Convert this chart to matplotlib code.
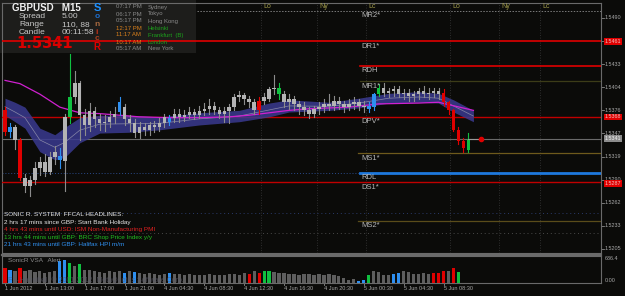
import matplotlib
matplotlib.use("Agg")
import matplotlib.pyplot as plt
from matplotlib.patches import Rectangle
from matplotlib.transforms import blended_transform_factory

plt.rcParams['font.family'] = ['Liberation Sans', 'DejaVu Sans']

# ---------------- data ----------------
opens = [1.5376, 1.5349, 1.5355, 1.5340, 1.5293, 1.5283, 1.5290, 1.5305, 1.5312, 1.5300,
         1.5318, 1.5315, 1.5313, 1.5368, 1.5392, 1.5410, 1.5370, 1.5358, 1.5375, 1.5365,
         1.5360, 1.5362, 1.5368, 1.5374, 1.5380, 1.5365, 1.5360, 1.5348, 1.5356, 1.5352,
         1.5358, 1.5355, 1.5360, 1.5362, 1.5366, 1.5372, 1.5368, 1.5370, 1.5374, 1.5370,
         1.5375, 1.5378, 1.5382, 1.5376, 1.5372, 1.5375, 1.5380, 1.5392, 1.5395, 1.5390,
         1.5386, 1.5376, 1.5388, 1.5390, 1.5402, 1.5404, 1.5396, 1.5386, 1.5390, 1.5384,
         1.5380, 1.5376, 1.5372, 1.5378, 1.5380, 1.5384, 1.5382, 1.5388, 1.5384, 1.5380,
         1.5384, 1.5386, 1.5382, 1.5378, 1.5380, 1.5396, 1.5404, 1.5398, 1.5400, 1.5402,
         1.5396, 1.5398, 1.5394, 1.5396, 1.5400, 1.5396, 1.5398, 1.5400, 1.5398, 1.5386,
         1.5376, 1.5352, 1.5338, 1.5327]
highs = [1.5380, 1.5360, 1.5358, 1.5342, 1.5298, 1.5295, 1.5312, 1.5318, 1.5322, 1.5325,
         1.5332, 1.5330, 1.5372, 1.5445, 1.5425, 1.5412, 1.5378, 1.5385, 1.5380, 1.5372,
         1.5370, 1.5375, 1.5380, 1.5392, 1.5384, 1.5370, 1.5365, 1.5362, 1.5360, 1.5362,
         1.5363, 1.5366, 1.5372, 1.5370, 1.5378, 1.5378, 1.5376, 1.5380, 1.5378, 1.5382,
         1.5385, 1.5390, 1.5386, 1.5380, 1.5380, 1.5384, 1.5396, 1.5400, 1.5398, 1.5394,
         1.5390, 1.5392, 1.5398, 1.5405, 1.5420, 1.5410, 1.5400, 1.5396, 1.5394, 1.5388,
         1.5386, 1.5380, 1.5382, 1.5386, 1.5390, 1.5396, 1.5394, 1.5392, 1.5388, 1.5390,
         1.5392, 1.5390, 1.5388, 1.5386, 1.5398, 1.5408, 1.5410, 1.5404, 1.5406, 1.5406,
         1.5402, 1.5402, 1.5400, 1.5404, 1.5406, 1.5404, 1.5404, 1.5404, 1.5402, 1.5388,
         1.5378, 1.5356, 1.5342, 1.5348]
lows = [1.5345, 1.5343, 1.5328, 1.5290, 1.5275, 1.5270, 1.5285, 1.5296, 1.5295, 1.5298,
        1.5310, 1.5305, 1.5276, 1.5360, 1.5385, 1.5340, 1.5345, 1.5350, 1.5355, 1.5352,
        1.5350, 1.5355, 1.5360, 1.5370, 1.5358, 1.5350, 1.5343, 1.5342, 1.5345, 1.5346,
        1.5349, 1.5350, 1.5356, 1.5358, 1.5362, 1.5362, 1.5363, 1.5366, 1.5365, 1.5366,
        1.5370, 1.5372, 1.5372, 1.5366, 1.5362, 1.5360, 1.5376, 1.5388, 1.5384, 1.5380,
        1.5372, 1.5372, 1.5384, 1.5388, 1.5396, 1.5390, 1.5380, 1.5378, 1.5376, 1.5372,
        1.5370, 1.5366, 1.5368, 1.5372, 1.5374, 1.5376, 1.5376, 1.5378, 1.5374, 1.5376,
        1.5378, 1.5376, 1.5374, 1.5374, 1.5376, 1.5394, 1.5394, 1.5392, 1.5394, 1.5392,
        1.5390, 1.5388, 1.5388, 1.5390, 1.5392, 1.5390, 1.5392, 1.5390, 1.5382, 1.5372,
        1.5350, 1.5334, 1.5325, 1.5325]
closes = [1.5349, 1.5355, 1.5340, 1.5293, 1.5283, 1.5290, 1.5305, 1.5312, 1.5300, 1.5318,
          1.5325, 1.5320, 1.5368, 1.5392, 1.5410, 1.5370, 1.5358, 1.5375, 1.5365, 1.5360,
          1.5362, 1.5368, 1.5372, 1.5386, 1.5365, 1.5360, 1.5348, 1.5356, 1.5352, 1.5358,
          1.5355, 1.5360, 1.5368, 1.5366, 1.5372, 1.5368, 1.5370, 1.5374, 1.5370, 1.5375,
          1.5378, 1.5382, 1.5376, 1.5372, 1.5375, 1.5380, 1.5392, 1.5395, 1.5390, 1.5386,
          1.5376, 1.5388, 1.5392, 1.5402, 1.5404, 1.5396, 1.5386, 1.5390, 1.5384, 1.5380,
          1.5376, 1.5372, 1.5378, 1.5380, 1.5384, 1.5382, 1.5388, 1.5384, 1.5380, 1.5384,
          1.5386, 1.5382, 1.5380, 1.5382, 1.5396, 1.5404, 1.5398, 1.5400, 1.5402, 1.5396,
          1.5398, 1.5394, 1.5396, 1.5400, 1.5396, 1.5398, 1.5400, 1.5396, 1.5386, 1.5376,
          1.5352, 1.5338, 1.5330, 1.5341]
# bar signal class: g=normal, r=red, G=green, b=blue
bar_class = list("rbgrgggggggbgGgggggggggbgggggggggbgggggggggggggggggrgggGgggggggggggggggggbbGggggggggggggrrrrrG")
volumes = [380, 340, 320, 400, 300, 330, 280, 300, 260, 280,
           300, 560, 600, 520, 450, 480, 350, 330, 300, 280,
           260, 300, 280, 300, 260, 320, 280, 260, 240, 250,
           230, 220, 240, 260, 240, 230, 220, 240, 220, 200,
           220, 240, 220, 200, 220, 240, 230, 220, 260, 240,
           300, 260, 300, 320, 280, 260, 250, 240, 230, 220,
           240, 230, 220, 230, 220, 230, 200, 180, 120, 80,
           100, 60, 80, 200, 300, 280, 220, 200, 240, 260,
           300, 280, 240, 230, 250, 240, 260, 250, 320, 300,
           380, 280, 300, 330]
vol_class = list("rbgrgggggggbbGgGggggggggbgbggggggbgggggggggggggggrgrGGgggggggggggggggggbbGggggbbggggggrrrgrG")

band_idx = [0, 2, 4, 7, 10, 12, 15, 19, 25, 31, 39, 47, 53, 57, 65, 71, 77, 83, 87, 90, 94]
band_upper = [1.5391, 1.5386, 1.5380, 1.5354, 1.5346, 1.5355, 1.5367, 1.5370, 1.5370, 1.5368,
              1.5373, 1.5376, 1.5385, 1.5389, 1.5386, 1.5391, 1.5397, 1.5399, 1.5397, 1.5389, 1.5376]
band_lower = [1.5370, 1.5362, 1.5354, 1.5325, 1.5315, 1.5318, 1.5336, 1.5348, 1.5349, 1.5352,
              1.5358, 1.5362, 1.5368, 1.5374, 1.5376, 1.5379, 1.5385, 1.5386, 1.5385, 1.5374, 1.5362]
ema_idx = [0, 3, 7, 11, 15, 19, 27, 33, 39, 45, 49, 53, 57, 61, 69, 75, 83, 87, 94]
ema_vals = [1.5413, 1.5409, 1.5396, 1.5380, 1.5373, 1.5372, 1.5368, 1.5367, 1.5367, 1.5368,
            1.5370, 1.5373, 1.5376, 1.5378, 1.5380, 1.5384, 1.5385, 1.5386, 1.5376]

level_names = ["MR2*", "DR1*", "RDH", "MR1*", "DPV*", "MS1*", "RDL", "DS1*", "MS2*"]
level_prices = [1.5499, 1.5461, 1.5431, 1.5412, 1.5368, 1.5323, 1.5299, 1.5287, 1.5240]
bid_price = 1.5341

price_ticks = [1.5490, 1.54615, 1.5433, 1.54045, 1.5376, 1.53475, 1.5319, 1.52905, 1.5262, 1.52335, 1.5205]
price_tick_labels = ["1.5490", "1.5461", "1.5433", "1.5404", "1.5376", "1.5347",
                     "1.5319", "1.5290", "1.5262", "1.5233", "1.5205"]
time_tick_idx = [0, 8, 16, 24, 32, 40, 48, 56, 64, 72, 80, 88]
time_tick_labels = ["1 Jun 2012", "1 Jun 13:00", "1 Jun 17:00", "1 Jun 21:00", "4 Jun 04:30",
                    "4 Jun 08:30", "4 Jun 12:30", "4 Jun 16:30", "4 Jun 20:30", "5 Jun 00:30",
                    "5 Jun 04:30", "5 Jun 08:30"]
session_names = ["Lo", "Ny", "Lc", "Lo", "Ny", "Lc"]
session_idx = [51.4, 62.6, 72.4, 89.2, 99.2, 107.4]

clock_times = ["07:17 PM", "06:17 PM", "05:17 PM", "12:17 PM", "11:17 AM", "10:17 AM", "05:17 AM"]
clock_cities = ["Sydney", "Tokyo", "Hong Kong", "Helsinki", "Frankfurt  (B)", "London", "New York"]
headlines = ["SONIC R. SYSTEM  FFCAL HEADLINES:",
             "2 hrs 17 mins since GBP: Start Bank Holiday",
             "4 hrs 43 mins until USD: ISM Non-Manufacturing PMI",
             "13 hrs 44 mins until GBP: BRC Shop Price Index y/y",
             "21 hrs 43 mins until GBP: Halifax HPI m/m"]

# ---------------- style ----------------
W, H = 625, 296
BG = '#0b0b09'
CAND = '#b4b4b4'
WICK = '#8c8c8c'
CLS = {'g': CAND, 'r': '#e00000', 'G': '#10c040', 'b': '#2e8ff0'}
VCLS = {'g': '#5e5e5e', 'r': '#e00000', 'G': '#10c040', 'b': '#2e8ff0'}

fig = plt.figure(figsize=(W / 100, H / 100), dpi=100)
fig.patch.set_facecolor(BG)


def fx(px):
    return px / W


def fy(py):
    return 1 - py / H


def ftext(x, y, s, color, size, **kw):
    fig.text(fx(x), fy(y), s, color=color, fontsize=size, va='center', **kw)


ax = fig.add_axes([fx(2), fy(253), (601 - 2) / W, (253 - 3) / H])
axv = fig.add_axes([fx(2), fy(283), (601 - 2) / W, (283 - 256) / H])
XMIN, XMAX = -0.6, 119.6
YMIN, YMAX = 1.5200, 1.55085
for a in (ax, axv):
    a.set_facecolor(BG)
    a.set_xlim(XMIN, XMAX)
    a.set_xticks([])
    a.set_yticks([])
    for sp in a.spines.values():
        sp.set_color('#6a6a6a')
        sp.set_linewidth(0.8)
ax.set_ylim(YMIN, YMAX)
axv.set_ylim(0, 700)


def px2idx(px):
    return (px - 3) / 5.0


PIP_PX = (YMAX - YMIN) / 250.0  # price per pixel

# info panel
ax.add_patch(Rectangle((fx(0), fy(53)), fx(196), 53 / H, transform=fig.transFigure,
                       facecolor='#1d1d1b', edgecolor='none', zorder=1, clip_on=False))

# horizontal level lines
lv_style = [dict(color='#7a7a7a', ls=(0, (1.5, 1.5)), lw=0.7, x0=196),
            dict(color='#e00000', ls='-', lw=1.2, x0=0),
            dict(color='#e00000', ls='-', lw=1.2, x0=359),
            dict(color='#3c3c18', ls='-', lw=0.9, x0=359),
            dict(color='#c00000', ls='-', lw=1.0, x0=0),
            dict(color='#6e5a1c', ls='-', lw=0.9, x0=357),
            dict(color='#1e78dc', ls='-', lw=2.0, x0=359),
            dict(color='#c00000', ls='-', lw=1.0, x0=0),
            dict(color='#5a4c1a', ls='-', lw=0.9, x0=357)]
for name, p, st in zip(level_names, level_prices, lv_style):
    ax.plot([px2idx(st['x0']), XMAX], [p, p], color=st['color'], ls=st['ls'], lw=st['lw'], zorder=3)
    ax.text(px2idx(361), p - 5 * PIP_PX, name, color='#b8b8b8', fontsize=5.5, va='center', zorder=6)
# RDL dotted extension
ax.plot([XMIN, px2idx(359)], [level_prices[6]] * 2, color='#2a4a8a', ls=(0, (1, 2)), lw=0.7, zorder=2)
# extra dotted lines
ax.plot([XMIN, XMAX], [1.5249] * 2, color='#2a3a6a', ls=(0, (1, 3)), lw=0.7, zorder=2)
ax.plot([XMIN, XMAX], [1.5225] * 2, color='#4a4a4a', ls=(0, (1, 3)), lw=0.7, zorder=2)
# bid line
ax.plot([XMIN, XMAX], [bid_price] * 2, color='#6a6a6a', lw=0.8, zorder=2)

# session vertical lines
for nm, si in zip(session_names, session_idx):
    ax.plot([si, si], [YMIN, YMAX], color='#3a3a3a', ls=(0, (1, 2)), lw=0.6, zorder=1)
    ax.text(si + 0.5, YMAX - 3 * PIP_PX, nm, color='#a09a4a', fontsize=5, va='center', zorder=6)

# band
ax.fill_between(band_idx, band_lower, band_upper, color='#3a3a90', alpha=0.85, lw=0, zorder=3)
ax.plot(band_idx, [(u + l) / 2 for u, l in zip(band_upper, band_lower)], color='#8888a8', lw=0.5, zorder=3)
ax.plot(ema_idx, ema_vals, color='#d020d0', lw=0.9, zorder=4)

# candles
for i, (o, h, l, c, k) in enumerate(zip(opens, highs, lows, closes, bar_class)):
    col = CLS[k]
    ax.plot([i, i], [l, h], color=WICK if k == 'g' else col, lw=0.8, zorder=5)
    b0 = min(o, c)
    bh = max(abs(c - o), 0.00008)
    ax.add_patch(Rectangle((i - 0.35, b0), 0.7, bh, facecolor=col, edgecolor='none', zorder=5))

# current price marker
ax.plot([len(closes) - 1, px2idx(481)], [bid_price] * 2, color='#9a9a9a', lw=0.8, zorder=5)
ax.plot([px2idx(481)], [bid_price], 'o', color='#e00000', ms=3, zorder=6)

# right price axis
tr = blended_transform_factory(ax.transAxes, ax.transData)
ax_w = 599.0
for p, lab in zip(price_ticks, price_tick_labels):
    ax.plot([1.0, 1.0 + 3 / ax_w], [p, p], color='#8a8a8a', lw=0.6, transform=tr, clip_on=False)
    ax.text(1.0 + 4 / ax_w, p, lab, color='#a8a8a8', fontsize=3.9, va='center', transform=tr, clip_on=False)
for p, lab, fc, tc in [(1.5461, "1.5461", '#e00000', '#f0c0c0'),
                       (1.5368, "1.5368", '#e00000', '#f0c0c0'),
                       (1.5287 - 1.2 * PIP_PX, "1.5287", '#e00000', '#f0c0c0'),
                       (bid_price, "1.5341", '#8c8c8c', '#f0f0f0')]:
    ax.text(1.0 + 4 / ax_w, p, lab, color=tc, fontsize=3.9, va='center', transform=tr, clip_on=False,
            bbox=dict(facecolor=fc, edgecolor='none', pad=0.6), zorder=7)

# time axis
for ti, lab in zip(time_tick_idx, time_tick_labels):
    x = (ti - XMIN) / (XMAX - XMIN)
    fig.text(fx(2) + x * (599 / W), fy(289), lab, color='#a8a8a8', fontsize=4.0, va='center', ha='left')
    axv.plot([ti, ti], [0, -40], color='#8a8a8a', lw=0.6, clip_on=False)

# volume subwindow
for i, (v, k) in enumerate(zip(volumes, vol_class)):
    axv.bar(i, v, width=0.65, color=VCLS[k], edgecolor='none', zorder=3)
axv.text(0.01, 0.82, "SonicR VSA   Alert", transform=axv.transAxes, color='#8a8a8a', fontsize=4.6, va='center')
axv.text(0.01, 0.1, "FX-Hannibal, \u00a9 2001-2012, MetaQuotes Software Corp.", transform=axv.transAxes,
         color='#5a5a6a', fontsize=5.0, va='center', alpha=0.7, zorder=4)
fig.text(fx(605), fy(259), "636.4", color='#a8a8a8', fontsize=3.9, va='center')
fig.text(fx(605), fy(281), "0.00", color='#a8a8a8', fontsize=3.9, va='center')
fig.add_artist(plt.Line2D([fx(2), fx(601)], [fy(255), fy(255)], color='#6a6a6a', lw=1.6))

# info panel texts
ftext(12, 8, "GBPUSD   M15", '#f0f0f0', 7, weight='bold')
ftext(19, 17, "Spread", '#c8c8c8', 6)
ftext(62, 17, "5.00", '#c8c8c8', 6)
ftext(19, 25, "Range", '#c8c8c8', 6)
ftext(62, 25, "110, 88", '#c8c8c8', 6)
ftext(19, 33, "Candle", '#c8c8c8', 6)
ftext(62, 33, "00:11:58", '#c8c8c8', 6)
fig.text(fx(16), fy(44), "1.5341", color='#d80000', fontsize=10.5, weight='bold', va='center',
         family='DejaVu Sans')
for s, y, c, sz in [("S", 8, '#1e90ff', 8), ("o", 17, '#1e6fd0', 6), ("n", 24, '#a86a40', 6),
                    ("i", 32, '#c03018', 6), ("c", 39, '#b04020', 6), ("R", 47, '#e00000', 7)]:
    fig.text(fx(97), fy(y), s, color=c, fontsize=sz, weight='bold', va='center', ha='center')
time_cols = ['#8a8a8a', '#8a8a8a', '#8a8a8a', '#d8801c', '#d8801c', '#d8801c', '#8a8a8a']
city_cols = ['#8a8a8a', '#8a8a8a', '#8a8a8a', '#1ca01c', '#1ca01c', '#1ca01c', '#8a8a8a']
for k, (t, cty) in enumerate(zip(clock_times, clock_cities)):
    y = 7 + 7 * k
    ftext(116, y, t, time_cols[k], 4.3)
    ftext(148, y, cty, city_cols[k], 4.3)

# headlines
head_cols = ['#e8e8e8', '#e8e8e8', '#e02020', '#20c020', '#3090f0']
for k, (s, c) in enumerate(zip(headlines, head_cols)):
    ftext(4, 215 + 7.5 * k, s, c, 4.6)

fig.savefig("out.png", dpi=100, facecolor=BG)
